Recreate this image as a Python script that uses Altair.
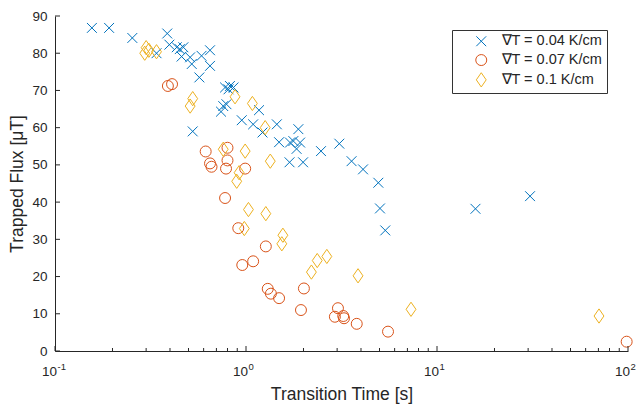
import altair as alt
import pandas as pd

# ---- data -------------------------------------------------------------
t04 = [0.156, 0.192, 0.254, 0.387, 0.34, 0.397, 0.434, 0.45, 0.47, 0.46, 0.51, 0.52,
       0.585, 0.648, 0.648, 0.57, 0.777, 0.824, 0.86, 0.81, 0.76, 0.79, 0.74, 1.17,
       0.95, 1.09, 1.45, 1.22, 1.88, 0.526, 1.49, 1.70, 1.77, 1.92, 1.84, 2.47, 3.08,
       1.69, 1.99, 3.57, 4.10, 4.93, 5.03, 5.36, 15.9, 30.7]
f04 = [86.8, 86.8, 84.1, 85.3, 80.0, 82.3, 81.6, 81.1, 81.6, 79.1, 78.9, 77.1,
       79.3, 80.8, 76.6, 73.5, 70.8, 71.2, 70.8, 70.3, 65.8, 66.3, 64.3, 64.7,
       62.0, 60.9, 60.9, 58.7, 59.6, 59.0, 56.1, 56.0, 56.4, 56.0, 54.3, 53.7, 55.7,
       50.7, 50.7, 51.0, 48.8, 45.2, 38.3, 32.4, 38.2, 41.6]

t07 = [0.39, 0.41, 0.615, 0.648, 0.66, 0.80, 0.80, 0.786, 0.99, 0.777, 0.911, 0.956,
       1.09, 1.27, 1.30, 1.35, 1.49, 2.01, 1.94, 3.03, 2.92, 3.23, 3.26, 3.80, 5.54, 98.4]
f07 = [71.2, 71.7, 53.6, 50.4, 49.5, 54.6, 51.2, 49.0, 49.0, 41.1, 33.0, 23.1,
       24.1, 28.1, 16.7, 15.4, 14.2, 16.8, 11.0, 11.5, 9.2, 9.4, 8.8, 7.3, 5.2, 2.5]

t10 = [0.30, 0.295, 0.31, 0.34, 0.526, 0.51, 0.876, 1.08, 1.26, 0.76, 0.99, 1.34,
       0.92, 0.894, 1.03, 1.27, 0.98, 1.56, 1.54, 2.36, 2.65, 2.20, 3.86, 7.31, 70.5]
f10 = [81.5, 80.0, 80.8, 80.4, 67.8, 65.8, 68.3, 66.5, 60.0, 54.2, 53.7, 51.0,
       47.9, 45.6, 38.0, 36.9, 32.9, 31.1, 28.8, 24.3, 25.4, 21.2, 20.2, 11.2, 9.4]

series = ["\u2207T = 0.04 K/cm", "\u2207T = 0.07 K/cm", "\u2207T = 0.1 K/cm"]
colors = ["#0072BD", "#D95319", "#EDB120"]

x_major = [0.1, 1, 10, 100]
x_exp = ["-1", "0", "1", "2"]
x_minor = [0.2, 0.3, 0.4, 0.5, 0.6, 0.7, 0.8, 0.9,
           2, 3, 4, 5, 6, 7, 8, 9,
           20, 30, 40, 50, 60, 70, 80, 90]
y_ticks = [0, 10, 20, 30, 40, 50, 60, 70, 80, 90]

# ---- build ------------------------------------------------------------
FONT = "Liberation Sans"
AX = "#262626"
W, H = 573, 335

df = pd.concat([
    pd.DataFrame({"t": t04, "f": f04, "s": series[0]}),
    pd.DataFrame({"t": t07, "f": f07, "s": series[1]}),
    pd.DataFrame({"t": t10, "f": f10, "s": series[2]}),
], ignore_index=True)
df["o"] = range(len(df))

xscale = alt.Scale(type="log", domain=[0.1, 100], nice=False)
yscale = alt.Scale(domain=[0, 90], nice=False, zero=False)

xaxis = alt.Axis(title="Transition Time [s]", labels=False, ticks=False, tickSize=0,
                 grid=False, domainColor=AX, domainWidth=1,
                 titleFont=FONT, titleFontSize=17.5, titleFontWeight="normal",
                 titleColor=AX, titleY=48, titleBaseline="alphabetic")
yaxis = alt.Axis(title="Trapped Flux [\u03bcT]", values=y_ticks, ticks=False, tickSize=0,
                 grid=False, domainColor=AX, domainWidth=1,
                 labelFont=FONT, labelFontSize=13.5, labelColor=AX, labelPadding=8,
                 titleFont=FONT, titleFontSize=17.5, titleFontWeight="normal",
                 titleColor=AX, titleX=-33, titleBaseline="alphabetic")

X_PATH = "M-0.9,-0.9L0.9,0.9M-0.9,0.9L0.9,-0.9"
D_PATH = "M0,-1.3L0.9,0L0,1.3L-0.9,0Z"

leg = alt.Legend(title=None, orient="none", legendX=397, legendY=14, direction="vertical",
                 labelFont=FONT, labelFontSize=14.5, labelColor=AX, symbolSize=120,
                 symbolStrokeWidth=1, padding=4, symbolOffset=18, labelOffset=13,
                 rowPadding=2.8, strokeColor="#333333", fillColor="white", cornerRadius=0,
                 symbolFillColor="transparent")

points = alt.Chart(df).mark_point(filled=False, strokeWidth=1, size=120, opacity=1).encode(
    x=alt.X("t:Q", scale=xscale, axis=xaxis),
    y=alt.Y("f:Q", scale=yscale, axis=yaxis),
    color=alt.Color("s:N", scale=alt.Scale(domain=series, range=colors), legend=leg),
    shape=alt.Shape("s:N", scale=alt.Scale(domain=series, range=[X_PATH, "circle", D_PATH]), legend=leg),
    order=alt.Order("o:Q"),
)

maj = alt.Chart(pd.DataFrame({"v": x_major, "e": x_exp}))
xt_major = maj.mark_rule(color=AX, strokeWidth=1).encode(
    x=alt.X("v:Q", scale=xscale, axis=xaxis), y=alt.value(H), y2=alt.value(H - 5))
xt_minor = alt.Chart(pd.DataFrame({"v": x_minor})).mark_rule(color=AX, strokeWidth=1).encode(
    x=alt.X("v:Q", scale=xscale, axis=xaxis), y=alt.value(H), y2=alt.value(H - 3))
yt = alt.Chart(pd.DataFrame({"v": y_ticks})).mark_rule(color=AX, strokeWidth=1).encode(
    y=alt.Y("v:Q", scale=yscale, axis=yaxis), x=alt.value(0), x2=alt.value(5))

base_lbl = maj.mark_text(align="right", baseline="alphabetic", dx=2, font=FONT,
                         fontSize=13.5, color=AX).encode(
    x=alt.X("v:Q", scale=xscale, axis=xaxis), y=alt.value(H + 25), text=alt.value("10"))
exp_lbl = maj.mark_text(align="left", baseline="alphabetic", dx=2.5, font=FONT,
                        fontSize=9.5, color=AX).encode(
    x=alt.X("v:Q", scale=xscale, axis=xaxis), y=alt.value(H + 19), text="e:N")

chart = alt.layer(points, xt_minor, xt_major, yt, base_lbl, exp_lbl).properties(
    width=W, height=H, autosize="none",
    padding={"left": 55, "top": 16, "right": 12, "bottom": 53},
    background="white",
).configure_view(stroke="transparent")

chart.save("out.html", embed_options={"renderer": "svg", "actions": False})
